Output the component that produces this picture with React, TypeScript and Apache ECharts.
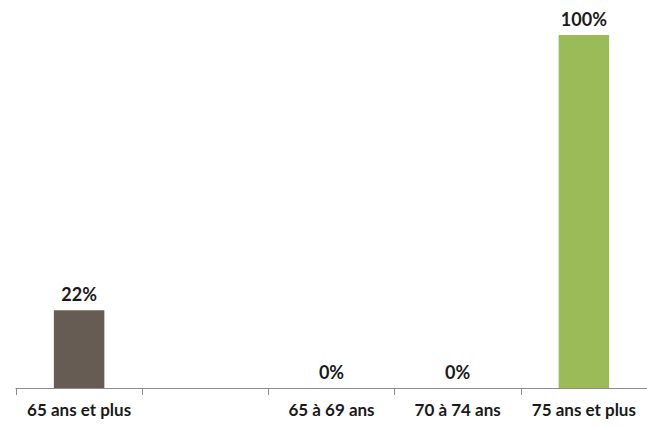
import React, { useEffect, useRef } from "react";
import * as echarts from "echarts";

const categories = ["65 ans et plus", "", "65 à 69 ans", "70 à 74 ans", "75 ans et plus"];
const values: (number | null)[] = [22, null, 0, 0, 100];
const barColors = ["#675c53", "#675c53", "#675c53", "#675c53", "#9bbb59"];

export default function App() {
  const ref = useRef<HTMLDivElement>(null);
  useEffect(() => {
    document.body.style.margin = "0";
    const chart = echarts.init(ref.current!, null, { renderer: "svg" });
    chart.setOption({
      animation: false,
      grid: { left: 16, top: 35, bottom: 39, width: 638 },
      xAxis: {
        type: "category",
        data: categories,
        axisLine: { lineStyle: { color: "#8c8c8c", width: 1 } },
        axisTick: { show: true, length: 7, interval: 0, lineStyle: { color: "#8c8c8c" } },
        axisLabel: {
          interval: 0,
          hideOverlap: false,
          color: "#1a1a1a",
          fontFamily: "Lato",
          fontWeight: "bold",
          fontSize: 17,
          margin: 13,
        },
      },
      yAxis: { type: "value", min: 0, max: 100, show: false, splitLine: { show: false } },
      series: [
        {
          type: "bar",
          barWidth: "40%",
          data: values.map((v, i) =>
            v === null ? "-" : { value: v, itemStyle: { color: barColors[i] } }
          ),
          label: {
            show: true,
            position: "top",
            distance: 7,
            formatter: (p: any) => `${p.value}%`,
            color: "#1a1a1a",
            fontFamily: "Lato",
            fontWeight: "bold",
            fontSize: 18,
          },
        },
      ],
    });
    return () => chart.dispose();
  }, []);
  return <div ref={ref} style={{ width: 647, height: 427 }} />;
}
